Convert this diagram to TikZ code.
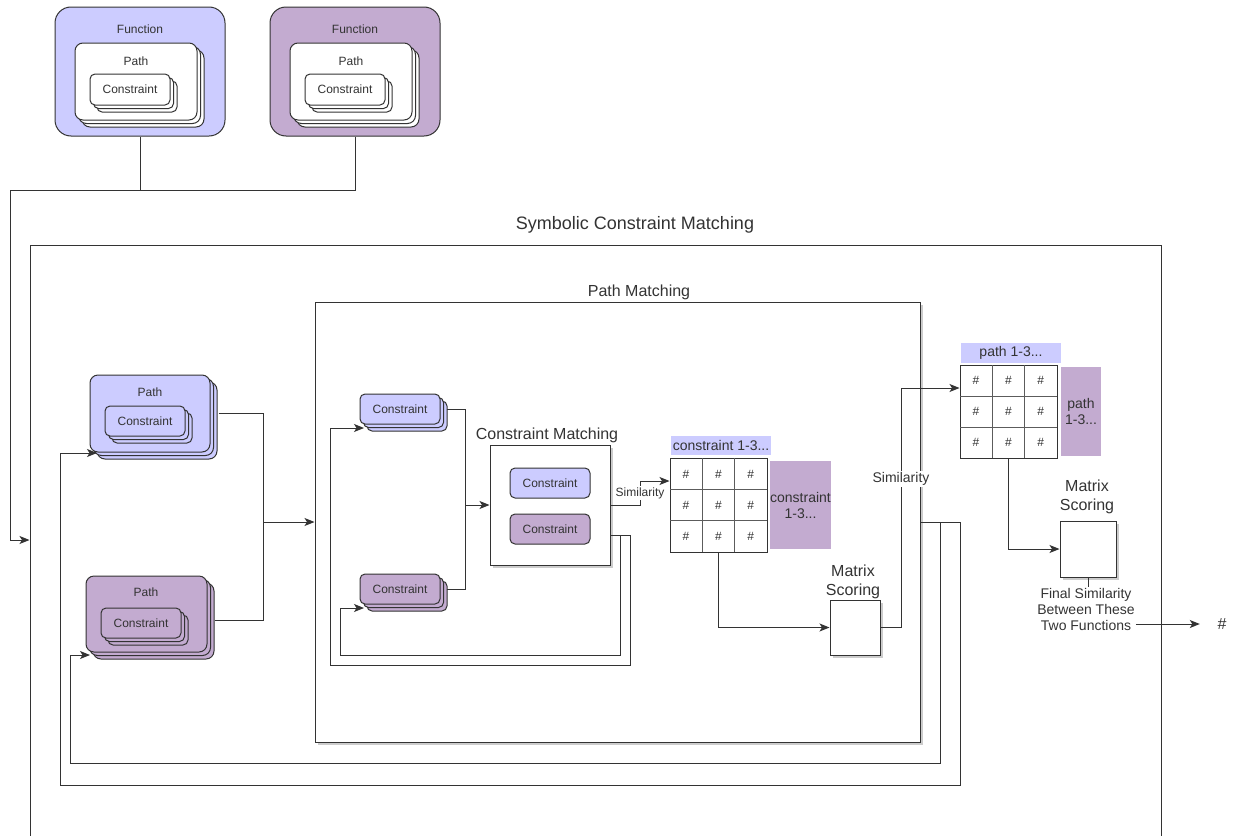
\documentclass[tikz,border=0pt]{standalone}
\usepackage{fontspec}
\setmainfont{Liberation Sans}
\usetikzlibrary{arrows.meta,shadows}
\definecolor{lnc}{HTML}{333333}
\definecolor{fblue}{HTML}{CCCCFF}
\definecolor{fpurp}{HTML}{C3ABD0}
\tikzset{
  ln/.style={draw=lnc, line width=1pt},
  arr/.style={ln, -{Stealth[length=10pt,width=8pt,inset=2.5pt]}},
  grd/.style={draw=lnc!80, line width=0.6pt},
  rbox/.style={ln, rounded corners=#1},
  stk/.style={fill=#1,
    copy shadow={shadow xshift=7pt, shadow yshift=-7pt, fill=#1, draw=lnc, line width=1pt},
    copy shadow={shadow xshift=3.5pt, shadow yshift=-3.5pt, fill=#1, draw=lnc, line width=1pt}},
  sh/.style={fill=white, drop shadow={shadow xshift=2.5pt, shadow yshift=-2.5pt, fill=black, opacity=0.2}},
  f12/.style={text=lnc, font=\fontsize{12pt}{14pt}\selectfont},
  f14/.style={text=lnc, font=\fontsize{14pt}{16pt}\selectfont},
  f16/.style={text=lnc, font=\fontsize{16pt}{19pt}\selectfont},
  f18/.style={text=lnc, font=\fontsize{18pt}{21pt}\selectfont},
  hdr/.style={f14, inner sep=0pt, align=center},
}
\begin{document}
\begin{tikzpicture}[x=1pt, y=-1pt]
  \clip (0,0) rectangle (1238,835);
  % the two functions
  \node[rbox=16pt, fill=fblue, minimum width=170pt, minimum height=129pt] (f1) at (140,71.5) {};
  \node[rbox=16pt, fill=fpurp, minimum width=170pt, minimum height=129pt] (f2) at (355,71.5) {};
  \node[f12] (f1t) at (140,29) {Function};
  \node[f12] (f2t) at (355,29) {Function};
  \node[rbox=8pt, stk=white, minimum width=122pt, minimum height=77pt] (f1p) at (136,81.5) {};
  \node[rbox=8pt, stk=white, minimum width=122pt, minimum height=77pt] (f2p) at (351,81.5) {};
  \node[f12] (f1pt) at (136,61) {Path};
  \node[f12] (f2pt) at (351,61) {Path};
  \node[rbox=5pt, stk=white, minimum width=80pt, minimum height=31pt, f12] (f1c) at (130,89.5) {Constraint};
  \node[rbox=5pt, stk=white, minimum width=80pt, minimum height=31pt, f12] (f2c) at (345,89.5) {Constraint};

  % outer boxes
  \node[ln, minimum width=1131pt, minimum height=595pt] (scm) at (595.5,542.5) {};
  \node[f18] (scmt) at (635,225) {Symbolic Constraint Matching};
  \node[ln, sh, minimum width=605pt, minimum height=440pt] (pm) at (617.5,522) {};
  \node[f16] (pmt) at (639,292) {Path Matching};

  % paths
  \node[rbox=8pt, stk=fblue, minimum width=120pt, minimum height=77pt] (bp) at (150,413.5) {};
  \node[f12] (bpt) at (150,392) {Path};
  \node[rbox=5pt, stk=fblue, minimum width=80pt, minimum height=30pt, f12] (bpc) at (145,421) {Constraint};
  \node[rbox=8pt, stk=fpurp, minimum width=121pt, minimum height=76pt] (pp) at (146.5,614) {};
  \node[f12] (ppt) at (146,592) {Path};
  \node[rbox=5pt, stk=fpurp, minimum width=80pt, minimum height=30pt, f12] (ppc) at (141,623) {Constraint};

  % constraints
  \node[rbox=5pt, stk=fblue, minimum width=80pt, minimum height=30pt, f12] (bc) at (400,409) {Constraint};
  \node[rbox=5pt, stk=fpurp, minimum width=80pt, minimum height=30pt, f12] (pc) at (400,589) {Constraint};
  \node[ln, sh, minimum size=120pt] (cm) at (550,505) {};
  \node[f16] (cmt) at (547,435) {Constraint Matching};
  \node[rbox=5pt, fill=fblue, minimum width=80pt, minimum height=30pt, f12] (cm1) at (550,483) {Constraint};
  \node[rbox=5pt, fill=fpurp, minimum width=80pt, minimum height=30pt, f12] (cm2) at (550,529) {Constraint};

  % constraint matrix
  \node[hdr, fill=fblue, minimum width=100pt, minimum height=19pt] (h1) at (721,445.5) {constraint 1-3...};
  \node[hdr, fill=fpurp, minimum width=59pt, minimum height=88pt] (s1) at (800.5,505) {constraint\\1-3...};
  \node[ln, fill=white, minimum width=97pt, minimum height=94pt] (m1) at (718.5,505) {};
  \foreach \k in {1,2} {
    \draw[grd] (670+\k*32.33,458) -- (670+\k*32.33,552);
    \draw[grd] (670,458+\k*31.33) -- (767,458+\k*31.33);
  }
  \foreach \c in {0,1,2} \foreach \r in {0,1,2}
    \node[f12] (m1c\c\r) at (686+\c*32.33,474+\r*31.33) {\#};
  \node[ln, sh, minimum width=50pt, minimum height=55pt] (ms1) at (855,627.5) {};
  \node[f16, align=center] (ms1t) at (853,582) {Matrix\\Scoring};

  % path matrix
  \node[hdr, fill=fblue, minimum width=100pt, minimum height=20pt] (h2) at (1011,353) {path 1-3...};
  \node[hdr, fill=fpurp, minimum width=40pt, minimum height=89pt] (s2) at (1081,411.5) {path\\1-3...};
  \node[ln, fill=white, minimum width=97pt, minimum height=93pt] (m2) at (1008.5,411.5) {};
  \foreach \k in {1,2} {
    \draw[grd] (960+\k*32.33,365) -- (960+\k*32.33,458);
    \draw[grd] (960,365+\k*31) -- (1057,365+\k*31);
  }
  \foreach \c in {0,1,2} \foreach \r in {0,1,2}
    \node[f12] (m2c\c\r) at (976+\c*32.33,380.5+\r*31) {\#};
  \node[ln, sh, minimum size=56pt] (ms2) at (1088,549) {};
  \node[f16, align=center] (ms2t) at (1087,497) {Matrix\\Scoring};
  \node[f14, align=center, inner sep=1pt] (fin) at (1086,609) {Final Similarity\\Between These\\Two Functions};
  \node[f16, minimum width=44pt] (out) at (1222,624) {\#};

  % connectors
  \coordinate (j1) at (140,190);
  \coordinate (j0) at (10,190);
  \draw[ln] (f2.south) |- (j1);
  \draw[arr] (f1.south) -- (j1) -- (j0) |- ([yshift=2.5pt]scm.west);

  \coordinate (jp) at (263,522);
  \draw[ln] ([xshift=8pt]bp.east) -| (jp);
  \draw[ln] ([xshift=7pt,yshift=-6pt]pp.east) -| (jp);
  \draw[arr] (jp) -- (pm.west);
  \coordinate (bpin) at (97,453);
  \coordinate (ppin) at (90,655);
  \draw[arr] (pm.east) -| (940,763) -| (70,655) -- (ppin);
  \draw[arr] (pm.east) -| (960,785) -| (60,453) -- (bpin);

  \coordinate (jc) at (465,505);
  \draw[ln] ([xshift=6pt]bc.east) -| (jc);
  \draw[ln] ([xshift=6pt]pc.east) -| (jc);
  \draw[arr] (jc) -- (cm.west);
  \coordinate (bcin) at (364,428);
  \coordinate (pcin) at (364,608);
  \draw[arr] ([yshift=-30pt]cm.east) -| (620,655) -| (340,608) -- (pcin);
  \draw[arr] ([yshift=-30pt]cm.east) -| (630,665) -| (330,428) -- (bcin);

  \draw[arr] (cm.east) -- (640,505) |- ([yshift=24pt]m1.west)
    node[pos=0.25, f12, fill=white, inner sep=1pt] {Similarity};
  \draw[arr] (m1.south) |- (ms1.west);
  \draw[arr] (ms1.east) -- (901,627.5) |- ([yshift=23.5pt]m2.west)
    node[pos=0.31, f14, fill=white, inner sep=1pt] {Similarity};
  \draw[arr] (m2.south) |- (ms2.west);
  \draw[ln] (ms2.south) -- (ms2.south |- fin.north);
  \draw[arr] (fin.east |- out) -- (out.west);
\end{tikzpicture}
\end{document}
